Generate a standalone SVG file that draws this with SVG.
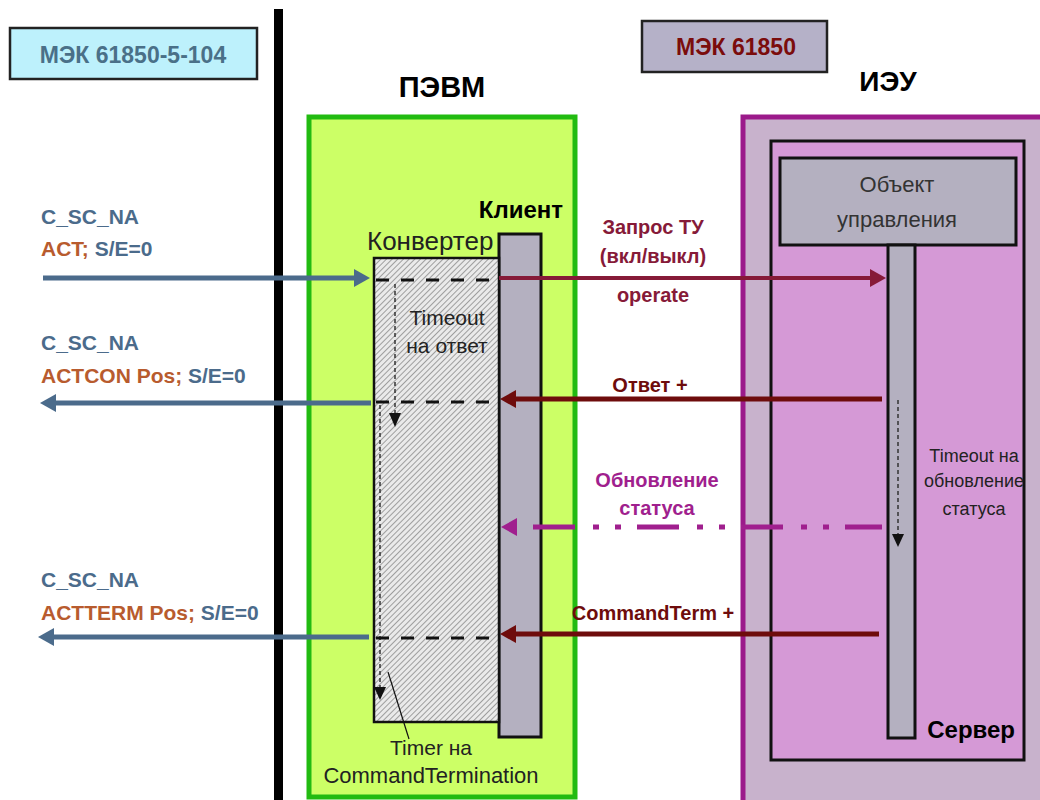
<svg xmlns="http://www.w3.org/2000/svg" width="1040" height="800" viewBox="0 0 1040 800">
<style>
text{font-family:"Liberation Sans",Arial,sans-serif}
.b{font-weight:bold}
.blue{fill:#4b6b8b}
.org{fill:#b85b2e}
.crim{fill:#861a38}
.mar{fill:#6e0c0c}
.pur{fill:#a01f8e}
.reg{fill:#222}
.c{text-anchor:middle}
.bar{fill:#b4b0c0;stroke:#111;stroke-width:3}
.hd{stroke:#111;stroke-dasharray:13 12;stroke-width:3}
.vd{stroke:#333;stroke-width:1.5;stroke-dasharray:4 3;fill:none}
</style>
<defs>
<pattern id="hatch" width="4" height="4" patternUnits="userSpaceOnUse" patternTransform="rotate(45)">
<rect width="4" height="4" fill="#eaeaea"/>
<line x1="0" y1="0" x2="0" y2="4" stroke="#7e7e7e" stroke-width="1.4"/>
</pattern>
</defs>
<rect width="1040" height="800" fill="#fff"/>

<g id="iec104">
<rect x="10" y="28" width="247" height="51" fill="#bdf1fc" stroke="#222" stroke-width="2.5"/>
<text x="133" y="63" class="b c" font-size="23" fill="#4a7088">МЭК 61850-5-104</text>
</g>
<g id="iec61850">
<rect x="642" y="21" width="185" height="51" fill="#b5b1c8" stroke="#222" stroke-width="2.5"/>
<text x="736" y="55" class="b c" font-size="23" fill="#7b0c0c">МЭК 61850</text>
</g>
<rect id="divider" x="274" y="9" width="9" height="791" fill="#000"/>

<g id="pevm">
<text x="442" y="97" class="b c" font-size="29" fill="#000">ПЭВМ</text>
<rect x="309" y="117" width="266" height="680" fill="#ccff66" stroke="#22bb11" stroke-width="5"/>
</g>

<g id="ieu">
<text x="888" y="91" class="b c" font-size="28" fill="#000">ИЭУ</text>
<rect x="743" y="117" width="305" height="690" fill="#c8b2cc" stroke="#9b1a8a" stroke-width="5"/>
</g>
<g id="server">
<rect x="771" y="141" width="253" height="619" fill="#d599d6" stroke="#111" stroke-width="3"/>
<text x="1015" y="738" class="b" font-size="24" text-anchor="end" fill="#000">Сервер</text>
</g>
<g id="object">
<rect x="780" y="158" width="236" height="87" fill="#b4b0c0" stroke="#111" stroke-width="3"/>
<text x="897" y="192" class="c" font-size="22" fill="#333">Объект</text>
<text x="897" y="227" class="c" font-size="22" fill="#333">управления</text>
</g>
<g id="server-lifeline">
<rect x="888" y="245" width="27" height="493" class="bar"/>
<line x1="898" y1="400" x2="898" y2="536" class="vd"/>
<polygon points="892,534 904,534 898,547" fill="#111"/>
<text x="974" y="462" class="c reg" font-size="18">Timeout на</text>
<text x="974" y="487" class="c reg" font-size="18">обновление</text>
<text x="974" y="515" class="c reg" font-size="18">статуса</text>
</g>

<g id="client">
<text x="563" y="218" class="b" font-size="24" text-anchor="end" fill="#000">Клиент</text>
<rect x="499" y="234" width="42" height="503" class="bar"/>
</g>
<g id="converter">
<text x="367" y="250" font-size="26" fill="#222">Конвертер</text>
<rect x="374" y="258" width="125" height="464" fill="url(#hatch)" stroke="#111" stroke-width="2.5"/>
<text x="447" y="325" class="c reg" font-size="21">Timeout</text>
<text x="447" y="353" class="c reg" font-size="21">на ответ</text>
<line x1="395" y1="284" x2="395" y2="414" class="vd"/>
<polygon points="389,413 401,413 395,427" fill="#111"/>
<line x1="380" y1="405" x2="380" y2="688" class="vd"/>
<polygon points="374,687 386,687 380,700" fill="#111"/>
<line x1="388" y1="672" x2="409" y2="739" stroke="#111" stroke-width="1.2"/>
<text x="431" y="755" class="c reg" font-size="21">Timer на</text>
<text x="431" y="783" class="c reg" font-size="22">CommandTermination</text>
</g>

<g id="connectors">
<line x1="376" y1="280" x2="499" y2="280" class="hd"/>
<line x1="376" y1="402" x2="499" y2="402" class="hd"/>
<line x1="376" y1="638" x2="499" y2="638" class="hd"/>

<line x1="43" y1="278" x2="356" y2="278" stroke="#4b6b8b" stroke-width="5"/>
<polygon points="354,269 370,278 354,287" fill="#4b6b8b"/>
<line x1="371" y1="403" x2="54" y2="403" stroke="#4b6b8b" stroke-width="5"/>
<polygon points="56,394 40,403 56,412" fill="#4b6b8b"/>
<line x1="369" y1="637" x2="52" y2="637" stroke="#4b6b8b" stroke-width="5"/>
<polygon points="54,628 38,637 54,646" fill="#4b6b8b"/>

<line x1="499" y1="278" x2="872" y2="278" stroke="#861a38" stroke-width="4"/>
<polygon points="870,269 886,278 870,287" fill="#861a38"/>
<line x1="882" y1="399" x2="514" y2="399" stroke="#6e0c0c" stroke-width="5"/>
<polygon points="516,390 500,399 516,408" fill="#6e0c0c"/>
<line x1="533" y1="527" x2="882" y2="527" stroke="#a01f8e" stroke-width="5" stroke-dasharray="42 18 6 16 6 16"/>
<polygon points="517,518 501,527 517,536" fill="#a01f8e"/>
<line x1="879" y1="634" x2="514" y2="634" stroke="#6e0c0c" stroke-width="5"/>
<polygon points="516,625 500,634 516,643" fill="#6e0c0c"/>
</g>

<g id="labels">
<text x="41" y="224" class="b blue" font-size="21">C_SC_NA</text>
<text x="41" y="256" class="b" font-size="21"><tspan class="org">ACT;</tspan><tspan class="blue"> S/E=0</tspan></text>
<text x="41" y="350" class="b blue" font-size="21">C_SC_NA</text>
<text x="41" y="383" class="b" font-size="21"><tspan class="org">ACTCON Pos;</tspan><tspan class="blue"> S/E=0</tspan></text>
<text x="41" y="587" class="b blue" font-size="21">C_SC_NA</text>
<text x="41" y="620" class="b" font-size="21"><tspan class="org">ACTTERM Pos;</tspan><tspan class="blue"> S/E=0</tspan></text>

<text x="653" y="234" class="b c crim" font-size="20">Запрос ТУ</text>
<text x="653" y="263" class="b c crim" font-size="20">(вкл/выкл)</text>
<text x="653" y="302" class="b c crim" font-size="20">operate</text>
<text x="650" y="392" class="b c mar" font-size="20">Ответ +</text>
<text x="657" y="487" class="b c pur" font-size="20">Обновление</text>
<text x="657" y="515" class="b c pur" font-size="20">статуса</text>
<text x="653" y="620" class="b c mar" font-size="20">CommandTerm +</text>
</g>
</svg>
